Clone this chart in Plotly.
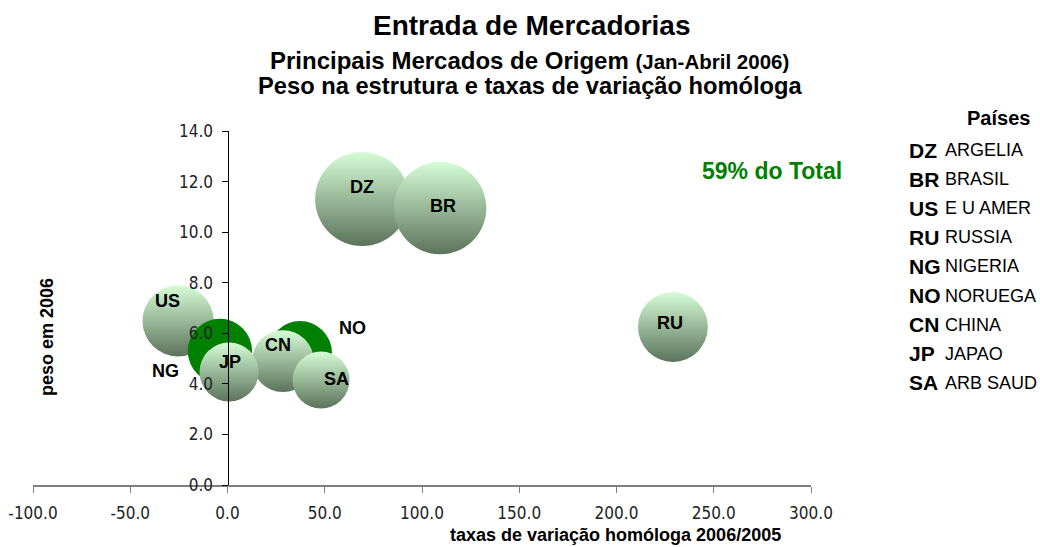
import plotly.graph_objects as go

# ---------------- data ----------------
codigos = ["DZ", "BR", "US", "RU", "NG", "NO", "CN", "JP", "SA"]
paises = ["ARGELIA", "BRASIL", "E U AMER", "RUSSIA", "NIGERIA", "NORUEGA", "CHINA", "JAPAO", "ARB SAUD"]
taxa_variacao = [69.2, 109.3, -25.4, 229.0, -3.9, 37.3, 28.5, 0.8, 48.1]   # x: % 2006/2005
peso_2006 = [11.31, 10.95, 6.49, 6.25, 5.30, 5.22, 4.90, 4.47, 4.15]        # y and bubble size
x_tick_vals = [-100, -50, 0, 50, 100, 150, 200, 250, 300]
x_tick_text = ["-100.0", "-50.0", "0.0", "50.0", "100.0", "150.0", "200.0", "250.0", "300.0"]
y_tick_vals = [0, 2, 4, 6, 8, 10, 12, 14]
y_tick_text = ["0.0", "2.0", "4.0", "6.0", "8.0", "10.0", "12.0", "14.0"]
total_txt = "59% do Total"

# ---------------- styles ----------------
destaque = {"NG", "NO"}
LIGHT, DARK, GREEN = "#d6fdd6", "#5b735b", "#008000"
fill = [GREEN if c in destaque else LIGHT for c in codigos]
grad = [GREEN if c in destaque else DARK for c in codigos]
label_shift = {"DZ": (0, 12), "BR": (3, 2), "RU": (-3, 4), "US": (-11, 20), "NG": (-54, -20),
               "NO": (52, 25), "CN": (-5, 16), "JP": (1, 10), "SA": (15, 1)}

W, H = 1040, 547
L, R, T, B = 33, 811, 131, 485
def px(x): return (x - L) / (R - L)
def py(y): return (B - y) / (B - T)

FONT = "Liberation Sans, Arial, sans-serif"
NARROW = "DejaVu Sans Condensed, Liberation Sans Narrow, Arial Narrow, sans-serif"
MAX_D = 94

fig = go.Figure()
fig.add_trace(go.Scatter(
    x=taxa_variacao, y=peso_2006, mode="markers",
    marker=dict(size=peso_2006, sizemode="area", sizeref=2 * max(peso_2006) / MAX_D ** 2,
                color=fill, gradient=dict(type="vertical", color=grad),
                line=dict(width=0), opacity=1),
    hoverinfo="skip", cliponaxis=False, showlegend=False))

ann = []
for c, xv, yv in zip(codigos, taxa_variacao, peso_2006):
    dx, dy = label_shift[c]
    ann.append(dict(x=xv, y=yv, xref="x", yref="y", text=f"<b>{c}</b>", showarrow=False,
                    xshift=dx, yshift=dy, font=dict(family=FONT, size=18, color="black")))

# titles
ann.append(dict(x=px(531), y=py(26), xref="paper", yref="paper", text="<b>Entrada de Mercadorias</b>",
                showarrow=False, xanchor="center", yanchor="middle", font=dict(family=FONT, size=28, color="black")))
ann.append(dict(x=px(529), y=py(60), xref="paper", yref="paper",
                text="<b>Principais Mercados de Origem </b><b><span style='font-size:20.5px'>(Jan-Abril 2006)</span></b>",
                showarrow=False, xanchor="center", yanchor="middle", font=dict(family=FONT, size=24, color="black")))
ann.append(dict(x=px(530), y=py(86), xref="paper", yref="paper",
                text="<b>Peso na estrutura e taxas de variação homóloga</b>",
                showarrow=False, xanchor="center", yanchor="middle", font=dict(family=FONT, size=23.7, color="black")))
# axis titles
ann.append(dict(x=px(615), y=py(535), xref="paper", yref="paper", text="<b>taxas de variação homóloga 2006/2005</b>",
                showarrow=False, xanchor="center", yanchor="middle", font=dict(family=FONT, size=18, color="black")))
ann.append(dict(x=px(47), y=py(337), xref="paper", yref="paper", text="<b>peso em 2006</b>", textangle=-90,
                showarrow=False, xanchor="center", yanchor="middle", font=dict(family=FONT, size=18, color="black")))
# total
ann.append(dict(x=px(772), y=py(171), xref="paper", yref="paper", text=f"<b>{total_txt}</b>",
                showarrow=False, xanchor="center", yanchor="middle", font=dict(family=FONT, size=23, color=GREEN)))
# legend
ann.append(dict(x=px(1032), y=py(118), xref="paper", yref="paper", text="<b>Países</b>",
                showarrow=False, xanchor="right", yanchor="middle", font=dict(family=FONT, size=20, color="black")))
for i, (c, p) in enumerate(zip(codigos, paises)):
    yy = 150 + i * 29.1
    ann.append(dict(x=px(907), y=py(yy), xref="paper", yref="paper", text=f"<b>{c}</b>",
                    showarrow=False, xanchor="left", yanchor="middle", font=dict(family=FONT, size=21, color="black")))
    ann.append(dict(x=px(943), y=py(yy), xref="paper", yref="paper", text=p,
                    showarrow=False, xanchor="left", yanchor="middle", font=dict(family=FONT, size=18, color="black")))

fig.update_layout(
    width=W, height=H, margin=dict(l=L, r=W - R, t=T, b=H - B, autoexpand=False),
    paper_bgcolor="white", plot_bgcolor="white", annotations=ann,
    xaxis=dict(range=[-100, 300], tickvals=x_tick_vals, ticktext=x_tick_text, showgrid=False, zeroline=False,
               showline=True, linecolor="#808080", linewidth=2, ticks="outside", ticklen=6, tickcolor="#808080",
               tickwidth=1, ticklabelstandoff=6, automargin=False,
               tickfont=dict(family=NARROW, size=17, color="#222222")),
    yaxis=dict(range=[0, 14], tickvals=y_tick_vals, ticktext=y_tick_text, showgrid=False, zeroline=False,
               anchor="free", position=0.25, showline=True, linecolor="black", linewidth=1,
               ticks="outside", ticklen=6, tickcolor="black", tickwidth=1, automargin=False,
               ticklabelstandoff=5,
               tickfont=dict(family=NARROW, size=17, color="#222222")),
)

fig.write_html("out.html", config={"displayModeBar": False},
               post_script="document.body.style.margin='0';document.body.style.overflow='hidden';")
